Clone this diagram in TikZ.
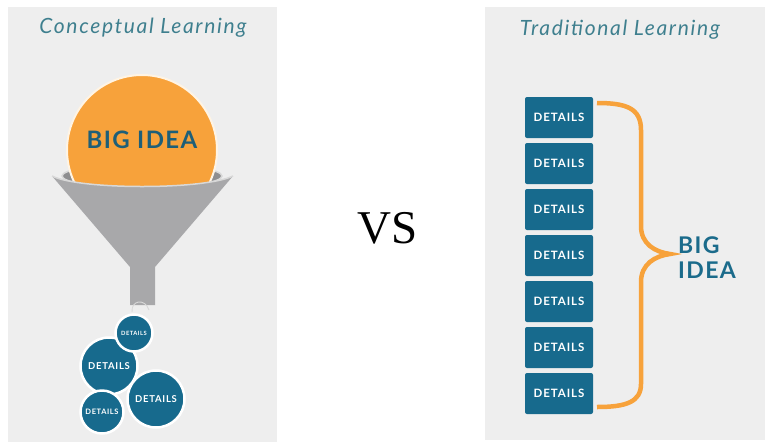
\documentclass[tikz,border=0pt]{standalone}
\usepackage{fontspec}
\setmainfont{Lato}
\newfontfamily\titlef[LetterSpace=8]{Lato}
\newfontfamily\boldf[LetterSpace=8]{Lato}
\newfontfamily\bigf[LetterSpace=6]{Lato}
\newfontfamily\vsf{Liberation Serif}
\definecolor{panelc}{HTML}{EEEEEE}
\definecolor{orangec}{HTML}{F7A23B}
\definecolor{creamc}{HTML}{FFF4E4}
\definecolor{fungray}{HTML}{A8A8AA}
\definecolor{fundark}{HTML}{8E8E90}
\definecolor{rimc}{HTML}{D8D8D8}
\definecolor{boxc}{HTML}{176A8D}
\definecolor{titlec}{HTML}{3E7F8E}
\definecolor{bigc}{HTML}{1E5F78}
\definecolor{bigr}{HTML}{1B6B8B}
\tikzset{
  titletext/.style={anchor=base, text=titlec, font=\titlef\itshape\fontsize{21}{24}\selectfont},
  dbox/.style={rectangle, rounded corners=2pt, fill=boxc, minimum width=68pt, minimum height=41pt, inner sep=0pt, text=white, font=\boldf\bfseries\fontsize{11.5}{12}\selectfont},
  dcirc/.style={circle, fill=boxc, draw=white, line width=2.5pt, inner sep=0pt, text=white},
  bigtext/.style={text=bigr, font=\bigf\bfseries\fontsize{23}{26}\selectfont}
}
\begin{document}
\begin{tikzpicture}[x=1pt,y=-1pt]
\useasboundingbox (0,0) rectangle (768,445);
\fill[white] (0,0) rectangle (768,445);
\fill[panelc] (8,7) rectangle (277,442);
\fill[panelc] (485,7) rectangle (765,440);

% titles
\node[titletext] (t1) at (143,33) {Conceptual Learning};
\node[titletext] (t2) at (620,35) {Traditional Learning};

% funnel back
\fill[fundark, draw=rimc, line width=1.5pt] (142,176) ellipse [x radius=80, y radius=12];
% big idea circle
\node[circle, fill=orangec, draw=creamc, line width=2pt, minimum size=150pt, inner sep=0pt] (bigc) at (142,150) {};
\node[anchor=base, text=bigc, font=\bigf\bfseries\fontsize{24}{26}\selectfont] (bigtxt) at (142,148) {BIG IDEA};
% funnel front
\fill[fungray] (52,176) .. controls (80,190) and (204,190) .. (233,176) -- (155,267) -- (155,305) -- (130,305) -- (130,267) -- cycle;
\draw[rimc, line width=1.5pt] (52,176) .. controls (80,190) and (204,190) .. (233,176);
\draw[rimc, line width=0.9pt] (132,312) .. controls (131,300) and (145,298) .. (149,310);

% detail circles
\node[dcirc, minimum size=57pt, font=\boldf\bfseries\fontsize{9.5}{10}\selectfont] (c2) at (109,366) {DETAILS};
\node[dcirc, minimum size=43pt, font=\boldf\bfseries\fontsize{7.5}{8}\selectfont] (c4) at (102,412) {DETAILS};
\node[dcirc, minimum size=57pt, font=\boldf\bfseries\fontsize{9.5}{10}\selectfont] (c3) at (156,399) {DETAILS};
\node[dcirc, minimum size=37pt, font=\boldf\bfseries\fontsize{5.8}{6}\selectfont] (c1) at (134,333) {DETAILS};

% VS
\node[anchor=base, font=\vsf\fontsize{47}{50}\selectfont] (vs) at (388,243) {VS};

% detail boxes
\foreach \i in {0,...,6}{
  \node[dbox] (b\i) at (559,{117.5+46*\i}) {DETAILS};
}

% brace
\draw[orangec, line width=4.5pt, line join=miter] (597,103) .. controls (626,103) and (641,108) .. (641,130) -- (641,226) .. controls (641,244) and (655,252) .. (670,254) .. controls (655,256) and (641,264) .. (641,282) -- (641,384) .. controls (641,402) and (626,407) .. (597,407);

% right big idea
\node[bigtext, anchor=base west, inner sep=0pt] (big) at (678,253) {BIG};
\node[bigtext, anchor=base west, inner sep=0pt] (idea) at (678,278) {IDEA};
\end{tikzpicture}
\end{document}
